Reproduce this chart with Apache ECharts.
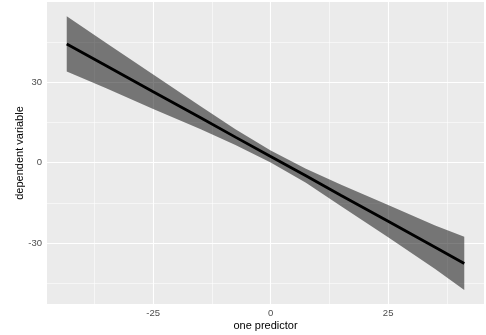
<!DOCTYPE html>
<html>
<head>
<meta charset="UTF-8">
<title></title>
<script src="https://cdn.jsdelivr.net/npm/echarts@6/dist/echarts.min.js"></script>
<style>
  html, body { margin: 0; padding: 0; background: #fff; }
  #chart { width: 486px; height: 335px; }
</style>
</head>
<body>
<div id="chart"></div>
<script>
// values
var predictor = [-43.4, -35, -25, -15, -7.5, 0, 7.5, 15, 25, 35, 41.2];
var fitted    = [44.2, 36.1, 26.4, 16.8, 9.5, 2.3, -4.9, -12.2, -21.8, -31.5, -37.5];
var lower     = [33.9, 27.7, 20.0, 12.5, 6.6, 0.1, -7.5, -16.2, -27.8, -39.6, -47.4];
var upper     = [54.5, 44.5, 32.8, 21.1, 12.4, 4.5, -2.3, -8.2, -15.8, -23.4, -27.6];

var xTicks = [-25, 0, 25];
var yTicks = [-30, 0, 30];
var xMinor = [-37.5, -12.5, 12.5, 37.5];
var yMinor = [-45, -15, 15, 45];

var chart = echarts.init(document.getElementById('chart'));

var gridLines = [];
xTicks.forEach(function (v) { gridLines.push({ xAxis: v, lineStyle: { width: 1.1 } }); });
xMinor.forEach(function (v) { gridLines.push({ xAxis: v, lineStyle: { width: 0.55 } }); });
yTicks.forEach(function (v) { gridLines.push({ yAxis: v, lineStyle: { width: 1.1 } }); });
yMinor.forEach(function (v) { gridLines.push({ yAxis: v, lineStyle: { width: 0.55 } }); });

var fitData = predictor.map(function (x, i) { return [x, fitted[i]]; });

var option = {
  animation: false,
  grid: {
    left: 47, right: 2, top: 2, bottom: 31,
    outerBoundsMode: 'none',
    containLabel: false,
    show: true, backgroundColor: '#EBEBEB', borderWidth: 0
  },
  xAxis: {
    type: 'value',
    min: -47.6, max: 45.4,
    name: 'one predictor',
    nameLocation: 'middle',
    nameGap: 16,
    nameMoveOverlap: false,
    nameTextStyle: { color: '#000', fontSize: 11, fontFamily: 'Liberation Sans' },
    axisLine: { show: false },
    axisTick: { show: true, length: 3, customValues: xTicks, lineStyle: { color: '#333' } },
    axisLabel: { customValues: xTicks, margin: 4, color: '#4D4D4D', fontSize: 9.5, fontFamily: 'Liberation Sans' },
    splitLine: { show: false }
  },
  yAxis: {
    type: 'value',
    min: -52.6, max: 59.8,
    name: 'dependent variable',
    nameLocation: 'middle',
    nameGap: 22,
    nameMoveOverlap: false,
    nameTextStyle: { color: '#000', fontSize: 11, fontFamily: 'Liberation Sans' },
    axisLine: { show: false },
    axisTick: { show: true, length: 3, customValues: yTicks, lineStyle: { color: '#333' } },
    axisLabel: { customValues: yTicks, margin: 5, color: '#4D4D4D', fontSize: 9.5, fontFamily: 'Liberation Sans' },
    splitLine: { show: false }
  },
  series: [
    {
      type: 'line',
      data: [],
      silent: true,
      markLine: {
        silent: true,
        symbol: 'none',
        z: 1,
        label: { show: false },
        lineStyle: { color: '#fff', type: 'solid' },
        emphasis: { disabled: true },
        data: gridLines
      }
    },
    {
      type: 'custom',
      z: 2,
      silent: true,
      data: [0],
      renderItem: function (params, api) {
        var pts = [];
        for (var i = 0; i < predictor.length; i++) pts.push(api.coord([predictor[i], upper[i]]));
        for (var j = predictor.length - 1; j >= 0; j--) pts.push(api.coord([predictor[j], lower[j]]));
        return {
          type: 'polygon',
          shape: { points: pts },
          style: { fill: 'rgba(0,0,0,0.5)' }
        };
      }
    },
    {
      type: 'line',
      z: 3,
      data: fitData,
      symbol: 'none',
      lineStyle: { color: '#000', width: 2.8 }
    }
  ]
};
chart.setOption(option);
</script>
</body>
</html>
